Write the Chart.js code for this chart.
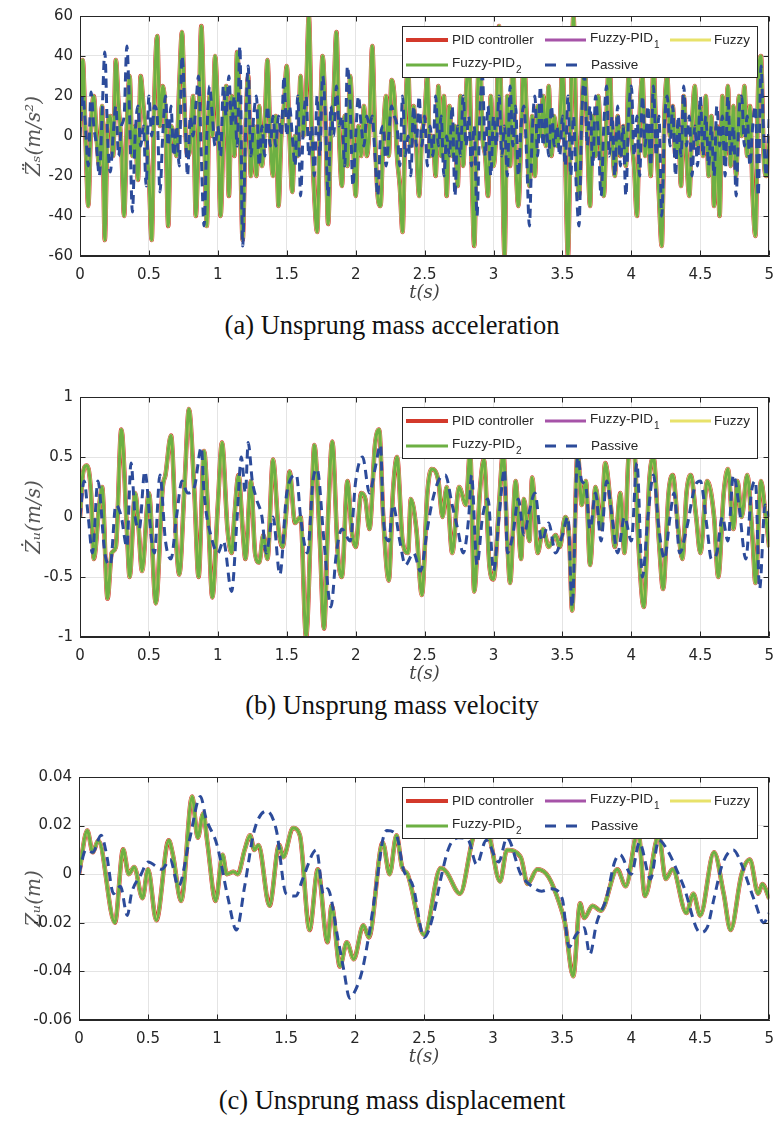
<!DOCTYPE html>
<html>
<head>
<meta charset="utf-8">
<script src="https://cdn.jsdelivr.net/npm/chart.js@4.4.1/dist/chart.umd.min.js"></script>
<style>
  html, body { margin: 0; padding: 0; background: #fff; }
  #page { position: relative; width: 784px; height: 1137px; overflow: hidden; }
  .plot { position: absolute; left: 0; width: 784px; }
  .caption {
    position: absolute; left: 0; width: 784px; text-align: center;
    font-family: "Liberation Serif", "Times New Roman", serif;
    font-size: 26.5px; line-height: 1; color: #111;
  }
</style>
</head>
<body>
<div id="page">
  <div class="plot" style="top:0"><canvas id="accChart" width="784" height="305"></canvas></div>
  <div class="caption" style="top:312px">(a) Unsprung mass acceleration</div>
  <div class="plot" style="top:380px"><canvas id="velChart" width="784" height="306"></canvas></div>
  <div class="caption" style="top:692px">(b) Unsprung mass velocity</div>
  <div class="plot" style="top:760px"><canvas id="dispChart" width="784" height="309"></canvas></div>
  <div class="caption" style="top:1087px">(c) Unsprung mass displacement</div>
</div>
<script>
// series shared by the three panels (legend order)
const seriesNames  = ['PID controller', 'Fuzzy-PID\u2081', 'Fuzzy', 'Fuzzy-PID\u2082', 'Passive'];
const seriesColors = ['#D3392B', '#A653A8', '#E8E26A', '#6DB043', '#2C4B9A'];
const seriesWidths = [4.5, 3.5, 3.5, 3, 3];

// x ticks (s)
const timeTicks = [0, 0.5, 1, 1.5, 2, 2.5, 3, 3.5, 4, 4.5, 5];

// ── (a) acceleration, sampled every 0.02 s ──
const accTime = [
  0, 0.02, 0.04, 0.06, 0.08, 0.1, 0.12, 0.14, 0.16, 0.18,
  0.2, 0.22, 0.24, 0.26, 0.28, 0.3, 0.32, 0.34, 0.36, 0.38,
  0.4, 0.42, 0.44, 0.46, 0.48, 0.5, 0.52, 0.54, 0.56, 0.58,
  0.6, 0.62, 0.64, 0.66, 0.68, 0.7, 0.72, 0.74, 0.76, 0.78,
  0.8, 0.82, 0.84, 0.86, 0.88, 0.9, 0.92, 0.94, 0.96, 0.98,
  1, 1.02, 1.04, 1.06, 1.08, 1.1, 1.12, 1.14, 1.16, 1.18,
  1.2, 1.22, 1.24, 1.26, 1.28, 1.3, 1.32, 1.34, 1.36, 1.38,
  1.4, 1.42, 1.44, 1.46, 1.48, 1.5, 1.52, 1.54, 1.56, 1.58,
  1.6, 1.62, 1.64, 1.66, 1.68, 1.7, 1.72, 1.74, 1.76, 1.78,
  1.8, 1.82, 1.84, 1.86, 1.88, 1.9, 1.92, 1.94, 1.96, 1.98,
  2, 2.02, 2.04, 2.06, 2.08, 2.1, 2.12, 2.14, 2.16, 2.18,
  2.2, 2.22, 2.24, 2.26, 2.28, 2.3, 2.32, 2.34, 2.36, 2.38,
  2.4, 2.42, 2.44, 2.46, 2.48, 2.5, 2.52, 2.54, 2.56, 2.58,
  2.6, 2.62, 2.64, 2.66, 2.68, 2.7, 2.72, 2.74, 2.76, 2.78,
  2.8, 2.82, 2.84, 2.86, 2.88, 2.9, 2.92, 2.94, 2.96, 2.98,
  3, 3.02, 3.04, 3.06, 3.08, 3.1, 3.12, 3.14, 3.16, 3.18,
  3.2, 3.22, 3.24, 3.26, 3.28, 3.3, 3.32, 3.34, 3.36, 3.38,
  3.4, 3.42, 3.44, 3.46, 3.48, 3.5, 3.52, 3.54, 3.56, 3.58,
  3.6, 3.62, 3.64, 3.66, 3.68, 3.7, 3.72, 3.74, 3.76, 3.78,
  3.8, 3.82, 3.84, 3.86, 3.88, 3.9, 3.92, 3.94, 3.96, 3.98,
  4, 4.02, 4.04, 4.06, 4.08, 4.1, 4.12, 4.14, 4.16, 4.18,
  4.2, 4.22, 4.24, 4.26, 4.28, 4.3, 4.32, 4.34, 4.36, 4.38,
  4.4, 4.42, 4.44, 4.46, 4.48, 4.5, 4.52, 4.54, 4.56, 4.58,
  4.6, 4.62, 4.64, 4.66, 4.68, 4.7, 4.72, 4.74, 4.76, 4.78,
  4.8, 4.82, 4.84, 4.86, 4.88, 4.9, 4.92, 4.94, 4.96, 4.98,
  5
];
const accControlled = [
  0, 38, 0, -35, 5, 20, 0, -15, 15, -52,
  5, 10, -10, 38, 15, -5, -40, 5, 30, -10,
  5, -22, 30, 15, 0, -20, -52, 20, 50, 5,
  25, 10, -45, 5, 0, -10, 25, 52, 10, -10,
  -5, 20, -40, 0, 55, 10, -45, 20, 0, 40,
  10, -40, 0, 25, -30, 20, -10, 42, 5, -52,
  0, 30, -20, 5, -20, 15, -15, 5, 38, 0,
  -20, 10, -35, 0, 15, 35, 0, -28, 0, -10,
  30, 0, 20, 60, 5, -30, -48, 0, 40, 10,
  -44, 0, 20, 52, 0, -25, 10, -15, 30, 0,
  -30, 5, -10, 15, -10, 5, 45, 0, -30, -35,
  0, 20, -10, 28, 20, -10, -25, -48, 10, 35,
  -5, 15, -5, -30, 0, 10, 30, -10, 0, -20,
  25, -10, 20, -30, 15, -10, 5, -25, 20, -15,
  20, 40, -10, -55, 10, 45, 0, -10, -30, 20,
  -15, 5, 55, 0, -60, 20, -15, 40, -10, -35,
  0, 40, 10, -25, 10, -20, 15, 0, 20, -5,
  25, -10, 10, -5, 5, 35, -10, -60, 10, 60,
  0, -30, 10, 40, 0, -35, 10, -10, 20, -10,
  -30, 10, 40, 0, -20, 10, -10, 5, -15, 30,
  0, -15, -40, 10, 30, -10, 5, -20, 35, 0,
  -30, -55, 10, 30, 0, 15, -10, 5, -25, 20,
  -10, -30, 5, 25, -5, 15, -10, 20, -20, 10,
  -35, 5, -40, 20, -10, 25, -15, 15, -20, 20,
  0, 25, -10, 15, -30, -50, 25, 40, -10, -20,
  0
];
const accPassive = [
  0, 20, 5, -15, 22, 5, -5, -20, 10, 42,
  0, -18, 0, 15, -10, 5, 10, 45, 10, -38,
  0, 15, -5, 5, -25, 20, 0, 15, 10, -28,
  0, 20, -5, 15, -10, 5, -15, 40, 15, -20,
  10, 0, 15, 30, -10, -45, 0, 25, 10, -5,
  5, -10, 25, 10, 30, 5, 20, -5, 45, -55,
  0, 35, -10, 10, 20, -15, 5, -10, 15, -5,
  10, -5, 10, 0, 30, 0, 15, 0, -15, 20,
  -30, 5, 20, -10, 5, -20, 20, -10, 30, 10,
  -30, 15, 0, 25, 5, 10, -15, 35, 15, -25,
  0, 20, 5, -5, 10, 5, 10, -10, -30, 0,
  5, -15, 0, 15, 10, 5, -15, 20, -10, 0,
  -20, 15, -5, 20, -5, 10, -15, 5, -10, 20,
  -5, 10, -20, 0, -10, 15, -30, 5, -10, 20,
  -5, 10, -15, 5, -40, 10, 30, -10, 15, -20,
  10, -5, 20, -10, 5, -20, 25, -5, 15, -20,
  5, 15, -10, -45, 0, 20, -10, 25, -5, 10,
  -10, 15, -5, 5, -10, 10, -15, 20, -20, 10,
  -25, -45, 10, 30, -5, 15, -15, 20, 0, -30,
  5, 25, -10, 10, -20, 15, -15, 5, -30, 10,
  25, -10, 10, -20, 20, -5, 15, -15, 25, -10,
  10, -40, 5, 20, -5, 15, -20, 10, -10, 25,
  -5, 10, -20, 5, -15, 20, -10, 10, -15, 5,
  -20, 15, -5, 10, -20, 20, -10, 5, -30, 10,
  20, -5, 10, -15, 5, 15, -30, 35, 0, -20,
  10
];

// ── (b) velocity, turning points ──
const velCtrlTime = [
  0, 0.02, 0.05, 0.08, 0.1, 0.14, 0.16, 0.2, 0.23, 0.26,
  0.3, 0.34, 0.36, 0.4, 0.42, 0.45, 0.5, 0.55, 0.6, 0.62,
  0.66, 0.7, 0.72, 0.76, 0.79, 0.83, 0.86, 0.9, 0.93, 0.96,
  1, 1.03, 1.07, 1.1, 1.12, 1.15, 1.18, 1.2, 1.24, 1.27,
  1.3, 1.33, 1.36, 1.4, 1.44, 1.47, 1.5, 1.52, 1.56, 1.6,
  1.64, 1.68, 1.7, 1.74, 1.77, 1.8, 1.83, 1.87, 1.9, 1.94,
  1.97, 2, 2.04, 2.07, 2.1, 2.14, 2.17, 2.2, 2.24, 2.27,
  2.3, 2.34, 2.38, 2.4, 2.44, 2.48, 2.52, 2.55, 2.6, 2.63,
  2.66, 2.7, 2.75, 2.8, 2.83, 2.86, 2.9, 2.93, 2.97, 3,
  3.04, 3.07, 3.1, 3.12, 3.16, 3.2, 3.22, 3.26, 3.28, 3.32,
  3.36, 3.4, 3.45, 3.48, 3.52, 3.55, 3.57, 3.61, 3.64, 3.67,
  3.7, 3.74, 3.78, 3.81, 3.85, 3.88, 3.92, 3.95, 3.98, 4.02,
  4.05, 4.09, 4.13, 4.16, 4.2, 4.23, 4.27, 4.3, 4.34, 4.37,
  4.4, 4.43, 4.47, 4.5, 4.55, 4.6, 4.63, 4.67, 4.7, 4.74,
  4.77, 4.8, 4.84, 4.88, 4.9, 4.94, 4.97, 5
];
const velControlled = [
  0, 0.35, 0.43, 0.2, -0.35, 0.1, 0.25, -0.68, -0.3, -0.25,
  0.73, -0.1, -0.5, 0.2, 0, -0.45, 0.2, -0.72, 0.25, 0.35,
  0.68, -0.25, -0.48, 0.3, 0.9, 0.2, -0.5, 0.55, 0, -0.67,
  0.1, 0.62, -0.1, -0.3, 0, 0.35, -0.1, -0.35, 0.3, -0.3,
  -0.38, -0.15, -0.35, 0.48, -0.1, -0.25, 0.1, 0.38, -0.05, 0,
  -1, 0.1, 0.6, -0.2, -0.93, 0, 0.63, -0.3, -0.5, 0.3,
  -0.1, -0.25, 0.2, 0.15, -0.1, 0.6, 0.73, 0, -0.53, 0.2,
  0.5, -0.2, -0.3, 0.15, -0.1, -0.65, 0.2, 0.4, 0.3, 0,
  0.25, -0.3, 0.25, 0.1, 0.55, -0.62, 0.2, 0.48, -0.4, -0.52,
  0.1, 0.55, -0.2, -0.55, 0.3, -0.35, 0.15, -0.2, 0.33, -0.3,
  -0.1, -0.25, -0.15, -0.25, 0, -0.2, -0.78, 0.55, 0.1, 0.3,
  -0.4, 0.25, -0.1, 0.45, 0.1, -0.25, 0.2, -0.3, 0.5, 0.55,
  -0.2, -0.75, 0.3, 0.5, -0.2, -0.6, 0.2, 0.35, -0.1, -0.35,
  0.2, 0.35, 0, -0.3, 0.3, 0, -0.5, 0.2, 0.4, -0.1,
  0.3, 0, 0.35, -0.2, -0.55, 0.3, 0.05, -0.25
];
const velPassTime = [
  0, 0.03, 0.06, 0.09, 0.13, 0.18, 0.22, 0.26, 0.3, 0.34,
  0.37, 0.4, 0.43, 0.47, 0.52, 0.54, 0.58, 0.62, 0.66, 0.7,
  0.74, 0.78, 0.83, 0.88, 0.9, 0.96, 1, 1.04, 1.1, 1.14,
  1.17, 1.2, 1.22, 1.25, 1.28, 1.32, 1.35, 1.4, 1.45, 1.5,
  1.57, 1.6, 1.65, 1.69, 1.72, 1.77, 1.82, 1.86, 1.9, 1.96,
  2, 2.05, 2.1, 2.14, 2.18, 2.2, 2.24, 2.27, 2.32, 2.36,
  2.42, 2.47, 2.52, 2.55, 2.6, 2.65, 2.7, 2.74, 2.78, 2.82,
  2.84, 2.88, 2.92, 2.96, 3, 3.04, 3.08, 3.1, 3.14, 3.18,
  3.22, 3.26, 3.3, 3.35, 3.4, 3.45, 3.5, 3.54, 3.57, 3.61,
  3.64, 3.67, 3.7, 3.74, 3.78, 3.82, 3.86, 3.9, 3.95, 4,
  4.04, 4.08, 4.12, 4.16, 4.2, 4.24, 4.28, 4.31, 4.35, 4.4,
  4.46, 4.5, 4.55, 4.58, 4.62, 4.66, 4.7, 4.74, 4.78, 4.83,
  4.87, 4.9, 4.93, 4.97, 5
];
const velPassive = [
  0, 0.3, 0, -0.3, 0.3, -0.3, -0.4, 0.1, 0, -0.25,
  0.45, 0, -0.1, 0.38, -0.2, -0.3, 0.35, -0.2, -0.35, 0,
  0.3, 0.2, 0.25, 0.58, 0.2, -0.2, -0.3, -0.2, -0.62, 0,
  0.5, 0.2, 0.62, 0.3, 0.15, 0, -0.3, 0, -0.48, 0.2,
  0.35, 0, -0.3, 0.3, 0.4, -0.2, -0.75, -0.3, -0.1, -0.2,
  0.3, 0.5, 0.2, 0.4, 0.6, 0, -0.2, 0.1, -0.2, -0.4,
  -0.3, -0.45, -0.1, 0.1, 0.3, 0.35, 0.1, -0.1, -0.3, 0,
  0.35, -0.4, 0, 0.15, -0.45, 0, 0.4, -0.3, -0.15, 0.15,
  -0.15, 0.05, 0.2, -0.2, -0.05, -0.3, -0.15, 0, -0.75, 0.5,
  0.3, 0.25, -0.1, 0.2, -0.2, 0.3, 0, -0.3, 0, -0.2,
  0.45, -0.5, 0, 0.35, -0.1, -0.35, 0, 0.2, -0.3, -0.1,
  0.25, 0.3, -0.1, -0.35, -0.3, 0, -0.2, 0.35, 0.1, -0.35,
  0.2, 0.3, -0.6, 0.1, 0
];

// ── (c) displacement, turning points ──
const dispCtrlTime = [
  0, 0.06, 0.1, 0.14, 0.26, 0.32, 0.36, 0.4, 0.46, 0.5,
  0.56, 0.65, 0.68, 0.74, 0.82, 0.86, 0.9, 0.93, 0.99, 1.04,
  1.07, 1.12, 1.15, 1.2, 1.24, 1.27, 1.3, 1.38, 1.45, 1.48,
  1.55, 1.6, 1.67, 1.73, 1.8, 1.83, 1.89, 1.94, 1.99, 2.06,
  2.1, 2.2, 2.25, 2.3, 2.34, 2.38, 2.5, 2.62, 2.66, 2.76,
  2.85, 2.9, 2.97, 3.05, 3.1, 3.2, 3.25, 3.32, 3.4, 3.48,
  3.52, 3.58, 3.63, 3.66, 3.72, 3.78, 3.9, 3.96, 4.05, 4.1,
  4.2, 4.25, 4.3, 4.4, 4.45, 4.5, 4.6, 4.67, 4.72, 4.8,
  4.86, 4.92, 4.95, 5
];
const dispControlled = [
  0, 0.018, 0.009, 0.014, -0.02, 0.0103, 0, 0.003, -0.0099, 0.002,
  -0.019, 0.014, 0.008, -0.011, 0.032, 0.015, 0.025, 0.013, -0.011, 0.008,
  0, 0.001, 0, 0.01, 0.016, 0.01, 0.012, -0.013, 0.012, 0.007,
  0.019, 0.016, -0.023, 0.002, -0.028, -0.013, -0.038, -0.028, -0.035, -0.021,
  -0.026, 0.013, 0, 0.016, 0.003, 0, -0.025, 0.0025, 0.001, -0.008,
  0.014, 0.022, 0.016, -0.003, 0.01, 0.007, -0.004, 0.002, -0.001, -0.012,
  -0.02, -0.042, -0.012, -0.018, -0.013, -0.015, 0.002, -0.005, 0.018, -0.009,
  0.016, -0.002, 0.002, -0.016, -0.008, -0.017, 0.009, -0.008, -0.023, 0,
  0.006, -0.008, -0.004, -0.01
];
const dispPassTime = [
  0, 0.05, 0.1, 0.16, 0.2, 0.25, 0.3, 0.35, 0.38, 0.45,
  0.5, 0.6, 0.66, 0.72, 0.8, 0.88, 0.92, 1, 1.08, 1.14,
  1.2, 1.27, 1.36, 1.43, 1.5, 1.57, 1.62, 1.72, 1.77, 1.8,
  1.88, 1.92, 1.96, 2, 2.05, 2.1, 2.16, 2.2, 2.23, 2.3,
  2.35, 2.42, 2.5, 2.57, 2.62, 2.68, 2.75, 2.82, 2.88, 2.95,
  3.04, 3.1, 3.2, 3.28, 3.35, 3.42, 3.5, 3.55, 3.6, 3.66,
  3.7, 3.75, 3.82, 3.88, 3.92, 4, 4.06, 4.14, 4.2, 4.28,
  4.32, 4.38, 4.5, 4.55, 4.6, 4.66, 4.74, 4.8, 4.85, 4.9,
  4.96, 5
];
const dispPassive = [
  0, 0.01, 0.009, 0.016, 0.008, -0.008, -0.005, -0.017, -0.008, 0,
  0.005, 0.002, 0.006, -0.005, 0.014, 0.032, 0.023, 0.012, -0.01, -0.023,
  -0.005, 0.018, 0.026, 0.018, -0.008, -0.009, -0.002, 0.01, -0.008, -0.006,
  -0.028, -0.04, -0.051, -0.048, -0.04, -0.025, -0.002, 0.014, 0.018, 0.016,
  0.002, -0.005, -0.026, -0.016, -0.002, 0.011, 0.015, 0.014, 0.004, 0.014,
  0.005, 0.015, 0, -0.005, -0.007, -0.006, -0.01, -0.03, -0.025, -0.022,
  -0.033, -0.02, -0.01, 0.005, 0.008, 0, 0.013, -0.002, 0.014, 0.008,
  0.003, -0.005, -0.024, -0.022, -0.01, 0.004, 0.01, 0.004, -0.004, -0.012,
  -0.02, -0.016
];

const AXIS_COLOR = '#262626';
const GRID_COLOR = '#e4e4e4';

// boxed matlab-style legend, 3 columns
const legendBox = {
  id: 'legendBox',
  afterDatasetsDraw(chart) {
    const { ctx, chartArea: a } = chart;
    const w = 356, h = 52;
    const x0 = Math.round(a.right - 11 - w), y0 = Math.round(a.top + 10);
    const slots = [[4, 46, 50, 14], [143, 184, 188, 14], [268, 309, 312, 14], [4, 46, 50, 39], [143, 180, 189, 39]];
    ctx.save();
    ctx.fillStyle = '#fff';
    ctx.fillRect(x0, y0, w, h);
    ctx.strokeStyle = AXIS_COLOR;
    ctx.lineWidth = 1;
    ctx.strokeRect(x0 + 0.5, y0 + 0.5, w - 1, h - 1);
    chart.data.datasets.forEach((ds, i) => {
      const [l0, l1, tx, ty] = slots[i];
      ctx.beginPath();
      ctx.strokeStyle = ds.borderColor;
      ctx.lineWidth = i === 0 ? 4 : 3;
      ctx.setLineDash(ds.borderDash && ds.borderDash.length ? [11, 10] : []);
      ctx.moveTo(x0 + l0, y0 + ty);
      ctx.lineTo(x0 + l1, y0 + ty);
      ctx.stroke();
      ctx.setLineDash([]);
      const m = ds.label.match(/^(.*?)([\u2080-\u2089])?$/);
      ctx.fillStyle = '#262626';
      ctx.textBaseline = 'middle';
      ctx.font = '13.5px "Liberation Sans", Arial, sans-serif';
      ctx.fillText(m[1], x0 + tx, y0 + ty - (m[2] ? 2 : 0));
      if (m[2]) {
        const wMain = ctx.measureText(m[1]).width;
        ctx.font = '10px "Liberation Sans", Arial, sans-serif';
        ctx.fillText(String(m[2].charCodeAt(0) - 0x2080), x0 + tx + wMain + 1, y0 + ty + 5);
      }
    });
    ctx.restore();
  }
};

// full axes box with inward ticks
const axesBox = {
  id: 'axesBox',
  afterDraw(chart) {
    const { ctx, chartArea: a, scales: { x, y } } = chart;
    const L = Math.round(a.left) + 0.5, R = Math.round(a.right) - 0.5;
    const T = Math.round(a.top) + 0.5, B = Math.round(a.bottom) - 0.5;
    ctx.save();
    ctx.strokeStyle = AXIS_COLOR;
    ctx.lineWidth = 1;
    ctx.strokeRect(L, T, R - L, B - T);
    ctx.beginPath();
    x.ticks.forEach(t => {
      const px = Math.round(x.getPixelForValue(t.value)) + 0.5;
      ctx.moveTo(px, B); ctx.lineTo(px, B - 5);
      ctx.moveTo(px, T); ctx.lineTo(px, T + 5);
    });
    y.ticks.forEach(t => {
      const py = Math.round(y.getPixelForValue(t.value)) + 0.5;
      ctx.moveTo(L, py); ctx.lineTo(L + 5, py);
      ctx.moveTo(R, py); ctx.lineTo(R - 5, py);
    });
    ctx.stroke();
    ctx.restore();
  }
};

function toPoints(ts, vs) {
  return ts.map((t, i) => ({ x: t, y: vs[i] }));
}

function buildChart(id, cfg) {
  const ctrl = toPoints(cfg.ctrlT, cfg.ctrlV);
  const pass = toPoints(cfg.passT, cfg.passV);
  const datasets = seriesNames.map((name, i) => ({
    label: name,
    data: i === 4 ? pass : ctrl,
    borderColor: seriesColors[i],
    borderWidth: seriesWidths[i],
    borderDash: i === 4 ? [9, 6] : [],
    order: 5 - i,
    pointRadius: 0,
    fill: false,
    cubicInterpolationMode: 'monotone',
    clip: 0
  }));
  const tickFont = { family: 'DejaVu Sans', size: 15 };
  const titleFont = { family: 'DejaVu Serif', style: 'italic', size: 20 };
  return new Chart(document.getElementById(id), {
    type: 'line',
    data: { datasets },
    options: {
      responsive: false,
      animation: false,
      devicePixelRatio: 1,
      layout: { padding: { top: cfg.padTop, right: cfg.padRight, left: 0, bottom: 0 } },
      plugins: { legend: { display: false }, tooltip: { enabled: false } },
      scales: {
        x: {
          type: 'linear', min: 0, max: 5,
          afterBuildTicks: s => { s.ticks = timeTicks.map(v => ({ value: v })); },
          ticks: { color: AXIS_COLOR, font: tickFont, padding: 10, maxRotation: 0, autoSkip: false,
                   callback: v => String(v) },
          grid: { color: GRID_COLOR, drawTicks: false },
          border: { color: AXIS_COLOR },
          title: { display: true, text: 't(s)', color: '#444', font: { family: 'DejaVu Serif', style: 'italic', size: 18 },
                   padding: { top: 0, bottom: 1 } },
          afterFit: s => { s.height = 49; }
        },
        y: {
          type: 'linear', min: cfg.yMin, max: cfg.yMax,
          afterBuildTicks: s => { s.ticks = cfg.yTicks.map(v => ({ value: v })); },
          ticks: { color: AXIS_COLOR, font: tickFont, padding: 7, callback: v => String(v) },
          grid: { color: GRID_COLOR, drawTicks: false },
          border: { color: AXIS_COLOR },
          title: { display: true, text: cfg.yTitle, color: '#555', font: titleFont,
                   padding: { top: 23, bottom: 0 } },
          afterFit: s => { s.width = cfg.yWidth; }
        }
      }
    },
    plugins: [legendBox, axesBox]
  });
}

const accTicks  = [-60, -40, -20, 0, 20, 40, 60];
const velTicks  = [-1, -0.5, 0, 0.5, 1];
const dispTicks = [-0.06, -0.04, -0.02, 0, 0.02, 0.04];

buildChart('accChart', {
  ctrlT: accTime, ctrlV: accControlled, passT: accTime, passV: accPassive,
  yMin: -60, yMax: 60, yTicks: accTicks, yTitle: 'Z\u0308\u209B(m/s\u00B2)',
  padTop: 16, padRight: 14, yWidth: 80
});
buildChart('velChart', {
  ctrlT: velCtrlTime, ctrlV: velControlled, passT: velPassTime, passV: velPassive,
  yMin: -1, yMax: 1, yTicks: velTicks, yTitle: 'Z\u0307\u1D64(m/s)',
  padTop: 17, padRight: 14, yWidth: 80
});
buildChart('dispChart', {
  ctrlT: dispCtrlTime, ctrlV: dispControlled, passT: dispPassTime, passV: dispPassive,
  yMin: -0.06, yMax: 0.04, yTicks: dispTicks, yTitle: 'Z\u1D64(m)',
  padTop: 17, padRight: 9, yWidth: 79
});
</script>
</body>
</html>
